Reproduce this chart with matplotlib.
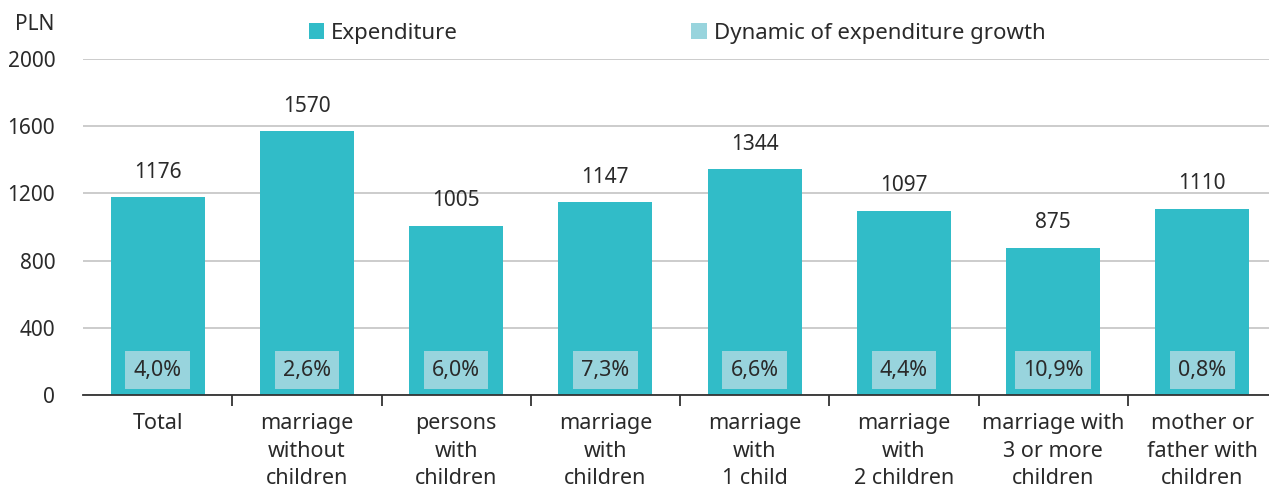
import matplotlib
matplotlib.use("Agg")
import matplotlib.pyplot as plt
import numpy as np

categories = ["Total", "marriage\nwithout\nchildren", "persons\nwith\nchildren",
              "marriage\nwith\nchildren", "marriage\nwith\n1 child", "marriage\nwith\n2 children",
              "marriage with\n3 or more\nchildren", "mother or\nfather with\nchildren"]
expenditure = [1176, 1570, 1005, 1147, 1344, 1097, 875, 1110]
growth = ["4,0%", "2,6%", "6,0%", "7,3%", "6,6%", "4,4%", "10,9%", "0,8%"]
yticks = [0, 400, 800, 1200, 1600, 2000]

BAR = "#31BCC8"
LIGHT = "#98D4DD"
TXT = "#2a2a2a"
plt.rcParams['font.family'] = ['Noto Sans', 'DejaVu Sans']

W, H = 1269, 488
fig = plt.figure(figsize=(W/100, H/100), dpi=100)
x0, x1 = 83, 1277
y0, y1 = 395, 59
ax = fig.add_axes([x0/W, (H-y0)/H, (x1-x0)/W, (y0-y1)/H])
x = np.arange(len(categories))
ax.bar(x, expenditure, width=0.63, color=BAR, zorder=3, label="Expenditure")
ax.set_xlim(-0.5, len(categories)-0.5)
ax.set_ylim(0, 2000)
ax.set_yticks(yticks)
ax.set_yticklabels([str(v) for v in yticks], fontsize=15, color=TXT)
ax.grid(axis='y', color="#c8c8c8", linewidth=1.3, zorder=0)
for s in ["top", "right", "left"]:
    ax.spines[s].set_visible(False)
ax.spines["bottom"].set_color("#333333")
ax.spines["bottom"].set_linewidth(1.3)
ax.spines["bottom"].set_zorder(4)
ax.tick_params(axis='y', length=0, pad=20)
ax.set_xticks(x)
ax.set_xticklabels(categories, fontsize=15.5, color=TXT, linespacing=1.42)
ax.tick_params(axis='x', length=0, pad=13)
ax.set_xticks(np.arange(len(categories)-1)+0.5, minor=True)
ax.tick_params(axis='x', which='minor', length=8, width=1.3, color="#333333", direction='out')

for xi, v, g in zip(x, expenditure, growth):
    ax.text(xi, v + 150, str(v), ha='center', va='center', fontsize=15, color=TXT, zorder=5)
    ax.text(xi, 148, g, ha='center', va='center', fontsize=15.5, color=TXT, zorder=5,
            bbox=dict(boxstyle='square,pad=0.38', fc=LIGHT, ec='none'))

fig.text(15/W, 1-25/H, "PLN", fontsize=15, color=TXT, ha='left', va='center')
ax.bar([0], [0], color=LIGHT, label="Dynamic of expenditure growth")
h, l = ax.get_legend_handles_labels()
fig.legend(h, l, loc='center', bbox_to_anchor=(677/W, 1-33/H), ncol=2, frameon=False,
           fontsize=16, handlelength=0.7, handleheight=0.7, handletextpad=0.3,
           columnspacing=10.5, labelcolor=TXT)
fig.savefig("out.png", dpi=100)
